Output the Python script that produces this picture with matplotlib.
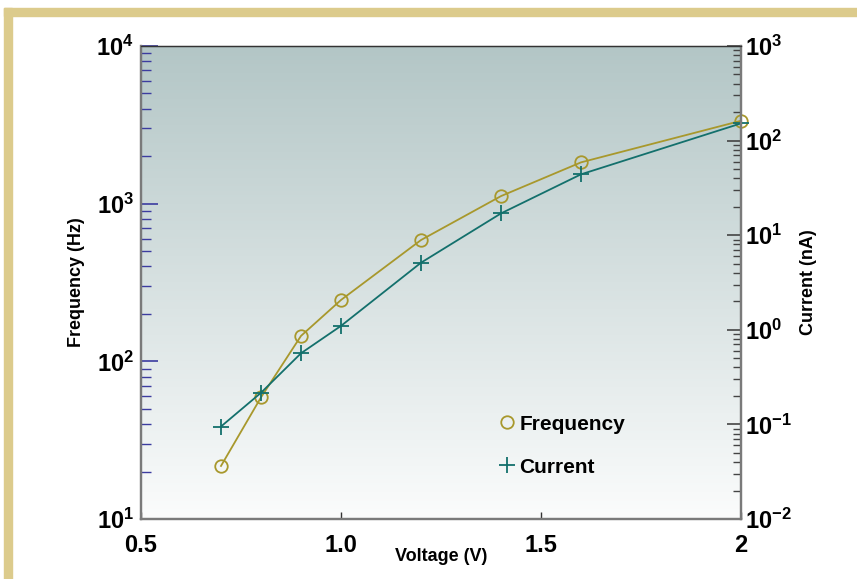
import numpy as np
import matplotlib
matplotlib.use("Agg")
import matplotlib.pyplot as plt
from matplotlib.lines import Line2D
from matplotlib.patches import Rectangle
from matplotlib.ticker import LogLocator, NullFormatter

plt.rcParams["font.family"] = ["Liberation Sans", "DejaVu Sans"]
plt.rcParams["font.weight"] = "bold"
plt.rcParams["mathtext.fontset"] = "custom"
plt.rcParams["mathtext.rm"] = "Liberation Sans:bold"
plt.rcParams["mathtext.default"] = "rm"

# data
voltage = [0.7, 0.8, 0.9, 1.0, 1.2, 1.4, 1.6, 2.0]
frequency_hz = [21.7, 59.1, 145, 245, 588, 1117, 1828, 3355]
current_na = [0.095, 0.216, 0.565, 1.10, 5.12, 17.0, 44.0, 152]

x_ticks = [0.5, 1.0, 1.5, 2.0]
x_labels = ["0.5", "1.0", "1.5", "2"]

FREQ_COLOR = "#a8982c"
CURR_COLOR = "#13706c"
TICK_BLUE = "#3c3ca0"

fig = plt.figure(figsize=(8.57, 5.79), dpi=100)

# tan frame, top and left
fig.patches.append(Rectangle((4 / 857, 1 - 16 / 579), 1, 8 / 579, transform=fig.transFigure,
                             color="#dccb8c", zorder=0))
fig.patches.append(Rectangle((4 / 857, 0), 8 / 857, 1 - 8 / 579, transform=fig.transFigure,
                             color="#dccb8c", zorder=0))

pos = [141 / 857, 60 / 579, 600 / 857, 473 / 579]

# gradient background
bg = fig.add_axes(pos, zorder=0)
grad = np.linspace(0, 1, 256).reshape(-1, 1)
top = np.array([0xb3, 0xc6, 0xc6]) / 255
bot = np.array([0xfb, 0xfc, 0xfc]) / 255
img = top[None, None, :] * (1 - grad[:, :, None]) + bot[None, None, :] * grad[:, :, None]
bg.imshow(img, aspect="auto", extent=[0, 1, 0, 1])
bg.axis("off")

ax = fig.add_axes(pos, zorder=1)
ax.patch.set_alpha(0)
ax.plot(voltage, frequency_hz, color=FREQ_COLOR, lw=1.3, marker="o", ms=9,
        mfc="none", mec=FREQ_COLOR, mew=1.3, clip_on=False)
ax.set_yscale("log")
ax.set_ylim(10, 1e4)
ax.set_xlim(0.5, 2.0)
ax.set_xticks(x_ticks)
ax.set_xticklabels(x_labels)
ax.tick_params(axis="x", direction="in", length=5, width=1, color="#333333",
               labelsize=17, pad=11)
ax.yaxis.set_major_locator(LogLocator(base=10, numticks=10))
ax.yaxis.set_minor_locator(LogLocator(base=10, subs=np.arange(2, 10), numticks=10))
ax.yaxis.set_minor_formatter(NullFormatter())
ax.tick_params(axis="y", which="major", direction="in", length=12, width=1.2,
               color=TICK_BLUE, labelsize=17, pad=5)
ax.tick_params(axis="y", which="minor", direction="in", length=7, width=1,
               color=TICK_BLUE)
ax.set_xlabel("Voltage (V)", fontsize=13, fontweight="bold", labelpad=-7)
ax.set_ylabel("Frequency (Hz)", fontsize=13, fontweight="bold", labelpad=8)

ax2 = ax.twinx()
ax2.plot(voltage, current_na, color=CURR_COLOR, lw=1.3, marker="+", ms=11,
         mew=1.3, clip_on=False)
ax2.set_yscale("log")
ax2.set_ylim(1e-2, 1e3)
ax2.yaxis.set_major_locator(LogLocator(base=10, numticks=10))
ax2.yaxis.set_minor_locator(LogLocator(base=10, subs=np.arange(2, 10), numticks=10))
ax2.yaxis.set_minor_formatter(NullFormatter())
ax2.tick_params(axis="y", which="major", direction="in", length=10, width=1.2,
                color="#444444", labelsize=17, pad=3)
ax2.tick_params(axis="y", which="minor", direction="in", length=6, width=1,
                color="#444444")
ax2.set_ylabel("Current (nA)", fontsize=13, fontweight="bold", labelpad=6)

for a in (ax, ax2):
    for side in ("left", "bottom", "right"):
        a.spines[side].set_color("#7a7a7a")
        a.spines[side].set_linewidth(1.6)
    a.spines["top"].set_color("#333333")
    a.spines["top"].set_linewidth(0.9)

handles = [
    Line2D([], [], color=FREQ_COLOR, marker="o", ls="none", ms=9, mfc="none", mew=1.3),
    Line2D([], [], color=CURR_COLOR, marker="+", ls="none", ms=11, mew=1.3),
]
leg = ax2.legend(handles, ["Frequency", "Current"], loc="upper left",
                 bbox_to_anchor=(0.568, 0.26), frameon=False, fontsize=15,
                 handlelength=0.6, handletextpad=0.3, labelspacing=1.15)
for t in leg.get_texts():
    t.set_fontweight("bold")

fig.savefig("out.png", dpi=100)
